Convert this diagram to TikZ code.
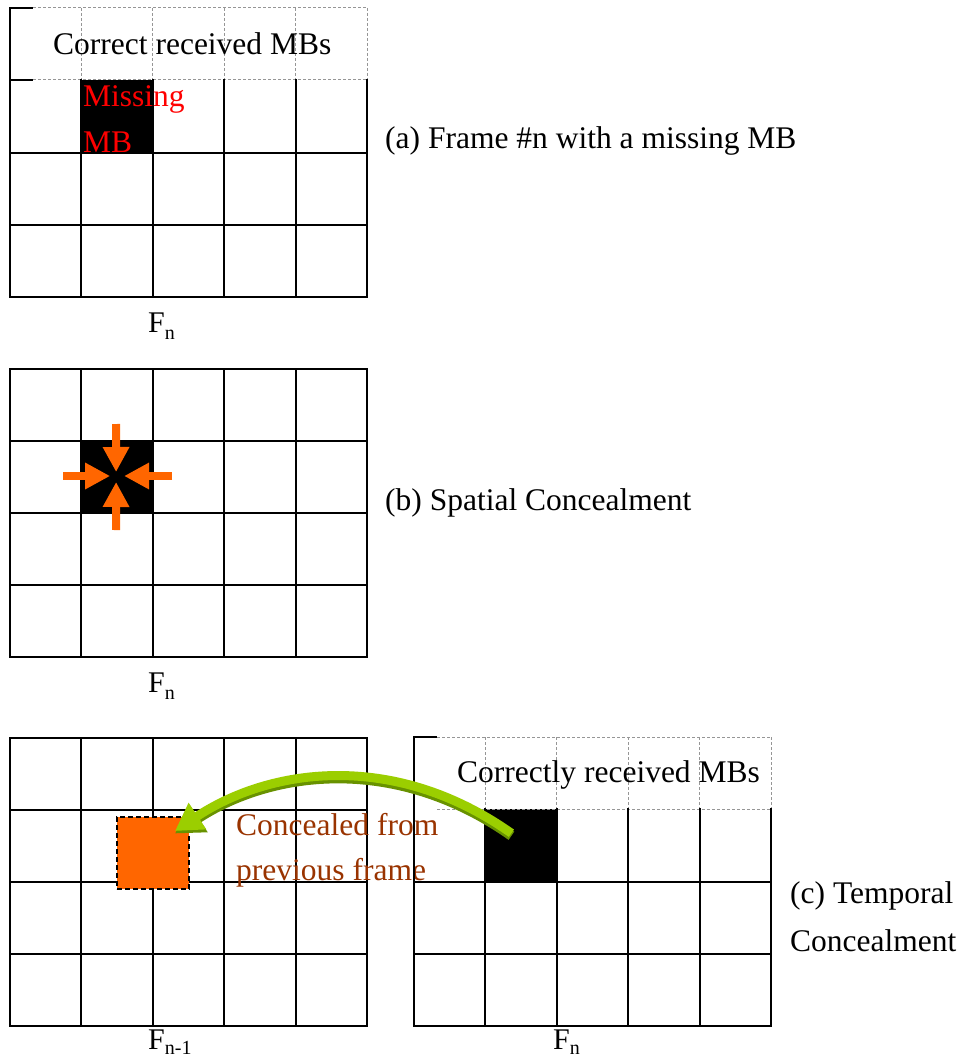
\documentclass[tikz,border=0pt]{standalone}
\usepackage{fontspec}
\setmainfont{Liberation Serif}
\usetikzlibrary{arrows.meta,calc}
\definecolor{mbred}{RGB}{255,0,0}
\definecolor{concorange}{RGB}{255,102,0}
\definecolor{concbrown}{RGB}{153,51,0}
\definecolor{arrowgreen}{RGB}{155,206,0}
\definecolor{arrowgreendark}{RGB}{104,146,0}
\definecolor{hdrgray}{RGB}{150,150,150}

\begin{document}
\begin{tikzpicture}[x=1pt,y=-1pt,
  gridline/.style={line width=2pt, black, line cap=rect},
  hdrline/.style={line width=1pt, hdrgray, dash pattern=on 3pt off 2pt},
  txt/.style={inner sep=0pt, anchor=base west, font=\fontsize{31.5}{36}\selectfont},
  frm/.style={inner sep=0pt, anchor=base west, font=\fontsize{30}{34}\selectfont},
  cell/.style={inner sep=0pt, outer sep=0pt, minimum width=71.4pt, minimum height=72.5pt, fill=black},
  concealcell/.style={inner sep=0pt, outer sep=0pt, minimum width=72pt, minimum height=72pt,
    fill=concorange, draw=black, line width=1.5pt, dash pattern=on 5pt off 3pt},
  spatialarrow/.style={line width=8pt, concorange, -{Triangle[length=25pt,width=25pt]}},
]
\useasboundingbox (0,0) rectangle (960,1059);

% ---------- (a) frame n with a missing MB ----------
\node[cell] (missA) at (117.1,116.5) {};
% header row: dashed cells
\foreach \x in {81.4,152.8,224.2,295.6,367} \draw[hdrline] (\x,8) -- (\x,80);
\draw[hdrline] (33,8) -- (367,8);
\draw[hdrline] (33,80) -- (367,80);
\draw[gridline,line cap=butt] (10,8) -- (33,8);
\draw[gridline,line cap=butt] (10,80) -- (33,80);
\draw[gridline] (10,8) -- (10,297);
% body grid
\foreach \x in {81.4,152.8,224.2,295.6,367} \draw[gridline] (\x,80) -- (\x,297);
\foreach \y in {153,225,297} \draw[gridline] (10,\y) -- (367,\y);
\node[txt] (hdrA) at (53,55) {Correct received MBs};
\node[txt, text=mbred] (missT1) at (83,107) {Missing};
\node[txt, text=mbred] (missT2) at (83,153) {MB};
\draw[gridline] (10,153) -- (367,153);
\node[txt] (capA) at (385,149) {(a) Frame \#n with a missing MB};
\node[frm] (fA) at (148,332) {F\raisebox{-7pt}{\fontsize{20}{22}\selectfont n}};

% ---------- (b) spatial concealment ----------
\node[cell] (missB) at (117.1,477) {};
\foreach \x in {10,81.4,152.8,224.2,295.6,367} \draw[gridline] (\x,369) -- (\x,657);
\foreach \y in {369,441,513,585,657} \draw[gridline] (10,\y) -- (367,\y);
\coordinate (bL) at (63,476);
\coordinate (bR) at (172,476);
\coordinate (bT) at (116,424);
\coordinate (bB) at (116,530);
\draw[spatialarrow] (bL) -- ($(missB.center)+(-7,-1)$);
\draw[spatialarrow] (bR) -- ($(missB.center)+(7,-1)$);
\draw[spatialarrow] (bT) -- ($(missB.center)+(-1,-5)$);
\draw[spatialarrow] (bB) -- ($(missB.center)+(-1,5)$);
\node[txt] (capB) at (385,510) {(b) Spatial Concealment};
\node[frm] (fB) at (148,692) {F\raisebox{-7pt}{\fontsize{20}{22}\selectfont n}};

% ---------- (c) temporal concealment: previous frame ----------
\foreach \x in {10,81.4,152.8,224.2,295.6,367} \draw[gridline] (\x,738) -- (\x,1026);
\foreach \y in {738,810,882,954,1026} \draw[gridline] (10,\y) -- (367,\y);
\node[concealcell] (conc) at (153,853) {};
\node[txt, text=concbrown] (concT1) at (236,835) {Concealed from};
\node[txt, text=concbrown] (concT2) at (236,880) {previous frame};
\node[frm] (fC1) at (148,1049) {F\raisebox{-5pt}{\fontsize{20}{22}\selectfont n-1}};

% ---------- (c) temporal concealment: current frame ----------
\node[cell] (missC) at (521.1,845.5) {};
\foreach \x in {485.4,556.8,628.2,699.6,771} \draw[hdrline] (\x,737) -- (\x,809);
\draw[hdrline] (437,737) -- (771,737);
\draw[hdrline] (437,809) -- (771,809);
\draw[gridline,line cap=butt] (414,737) -- (437,737);
\draw[gridline] (414,737) -- (414,1026);
\foreach \x in {485.4,556.8,628.2,699.6,771} \draw[gridline] (\x,809) -- (\x,1026);
\foreach \y in {882,954,1026} \draw[gridline] (414,\y) -- (771,\y);
\node[txt] (hdrC) at (457,782) {Correctly received MBs};
\node[frm] (fC2) at (553,1049) {F\raisebox{-5pt}{\fontsize{20}{22}\selectfont n}};
\node[txt] (capC1) at (790,903) {(c) Temporal};
\node[txt] (capC2) at (790,951) {Concealment};

% curved arrow from the missing MB back to the concealed block
\coordinate (gStart) at ($(missC.north west)+(26,24)$);
\coordinate (gEnd) at ($(conc.north east)+(-14,14)$);
\draw[line width=10pt, arrowgreendark, -{Triangle[length=28pt,width=32pt]}]
  ([yshift=-2.5pt]gStart) .. controls (392,752) and (268,772) .. ([yshift=-2.5pt]gEnd);
\draw[line width=9pt, arrowgreen, -{Triangle[length=27pt,width=30pt]}]
  (gStart) .. controls (392,749) and (268,769) .. (gEnd);
\end{tikzpicture}
\end{document}
